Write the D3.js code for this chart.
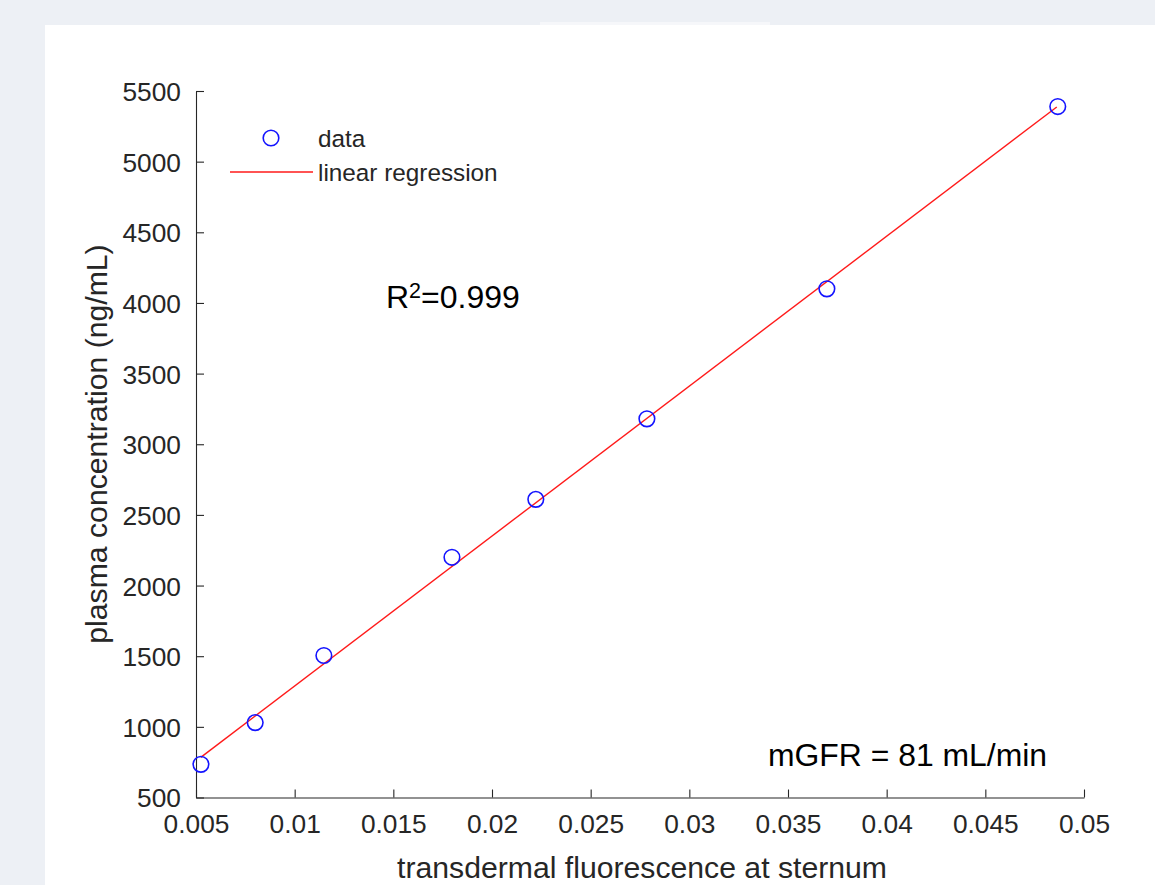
<!DOCTYPE html>
<html>
<head>
<meta charset="utf-8">
<script src="https://cdn.jsdelivr.net/npm/d3@7"></script>
<style>
  html, body { margin: 0; padding: 0; background: #edf0f5; }
  svg { display: block; }
  text { font-family: "Liberation Sans", Arial, Helvetica, sans-serif; }
</style>
</head>
<body>
<svg id="chart" width="1155" height="885"></svg>
<script>
// ---- data ----
const fluorescence = [0.00525, 0.0080, 0.01148, 0.01797, 0.02222, 0.02785, 0.03697, 0.04867];
const plasma       = [735, 1030, 1505, 2200, 2610, 3180, 4100, 5390];
const fitX = [0.00524, 0.04862];
const fitY = [784, 5387];
const xTicks = [0.005, 0.01, 0.015, 0.02, 0.025, 0.03, 0.035, 0.04, 0.045, 0.05];
const xTickLabels = ["0.005", "0.01", "0.015", "0.02", "0.025", "0.03", "0.035", "0.04", "0.045", "0.05"];
const yTicks = [500, 1000, 1500, 2000, 2500, 3000, 3500, 4000, 4500, 5000, 5500];
const yTickLabels = ["500", "1000", "1500", "2000", "2500", "3000", "3500", "4000", "4500", "5000", "5500"];
const legendLabels = ["data", "linear regression"];
const xTitle = "transdermal fluorescence at sternum";
const yTitle = "plasma concentration (ng/mL)";
const r2Text = "0.999";
const mgfrText = "mGFR = 81 mL/min";

// ---- drawing ----
const svg = d3.select("#chart");
const axisColor = "#262626";

svg.append("rect").attr("x", 0).attr("y", 0).attr("width", 1155).attr("height", 885).attr("fill", "#edf0f5");
svg.append("rect").attr("x", 540).attr("y", 22).attr("width", 230).attr("height", 4).attr("fill", "#f6f7fa");
svg.append("rect").attr("x", 45).attr("y", 25).attr("width", 1110).attr("height", 860).attr("fill", "#ffffff");

const x = d3.scaleLinear().domain([0.005, 0.05]).range([196, 1084]);
const y = d3.scaleLinear().domain([500, 5500]).range([797.5, 91]);

// x axis
const xAxis = d3.axisBottom(x)
  .tickValues(xTicks)
  .tickFormat((d, i) => xTickLabels[i])
  .tickSizeInner(-8).tickSizeOuter(0).tickPadding(17);
const gx = svg.append("g").attr("transform", `translate(0,${y(500)})`).call(xAxis);
gx.select(".domain").attr("stroke", axisColor).attr("stroke-width", 1.1);
gx.selectAll(".tick line").attr("stroke", axisColor).attr("stroke-width", 1.1);
gx.selectAll(".tick text").attr("fill", axisColor).attr("font-size", 26.3).attr("dy", "0.71em");

// y axis
const yAxis = d3.axisLeft(y)
  .tickValues(yTicks)
  .tickFormat((d, i) => yTickLabels[i])
  .tickSizeInner(-8).tickSizeOuter(0).tickPadding(15);
const gy = svg.append("g").attr("transform", `translate(${x(0.005)},0)`).call(yAxis);
gy.select(".domain").attr("stroke", axisColor).attr("stroke-width", 1.1);
gy.selectAll(".tick line").attr("stroke", axisColor).attr("stroke-width", 1.1);
gy.selectAll(".tick text").attr("fill", axisColor).attr("font-size", 26.3).attr("dy", "0.36em");

// axis titles
svg.append("text")
  .attr("x", 642)
  .attr("y", 878)
  .attr("text-anchor", "middle")
  .attr("font-size", 30.2)
  .attr("fill", axisColor)
  .text(xTitle);

svg.append("text")
  .attr("transform", `translate(107,444)rotate(-90)`)
  .attr("text-anchor", "middle")
  .attr("font-size", 30.2)
  .attr("fill", axisColor)
  .text(yTitle);

// regression line
const line = d3.line().x(d => x(d[0])).y(d => y(d[1]));
svg.append("path")
  .datum(fitX.map((v, i) => [v, fitY[i]]))
  .attr("d", line)
  .attr("fill", "none")
  .attr("stroke", "#ff1a1a")
  .attr("stroke-width", 1.4);

// data points
svg.append("g").selectAll("circle")
  .data(fluorescence.map((v, i) => [v, plasma[i]]))
  .join("circle")
  .attr("cx", d => x(d[0]))
  .attr("cy", d => y(d[1]))
  .attr("r", 7.8)
  .attr("fill", "none")
  .attr("stroke", "#1414ff")
  .attr("stroke-width", 1.6);

// legend
const lg = svg.append("g");
lg.append("circle").attr("cx", 271).attr("cy", 138).attr("r", 7.8)
  .attr("fill", "none").attr("stroke", "#1414ff").attr("stroke-width", 1.6);
lg.append("text").attr("x", 318).attr("y", 146.5).attr("font-size", 24.3).attr("fill", axisColor).text(legendLabels[0]);
lg.append("line").attr("x1", 230).attr("x2", 313).attr("y1", 172).attr("y2", 172)
  .attr("stroke", "#ff1a1a").attr("stroke-width", 1.4);
lg.append("text").attr("x", 318).attr("y", 181).attr("font-size", 24.3).attr("fill", axisColor).text(legendLabels[1]);

// annotations
const r2 = svg.append("text").attr("x", 386).attr("y", 308).attr("font-size", 32).attr("fill", "#000");
r2.append("tspan").text("R");
r2.append("tspan").attr("font-size", 21.5).attr("dy", -10).text("2");
r2.append("tspan").attr("dy", 10).text("=" + r2Text);

svg.append("text").attr("x", 768).attr("y", 766).attr("font-size", 31.9).attr("fill", "#000").text(mgfrText);
</script>
</body>
</html>
